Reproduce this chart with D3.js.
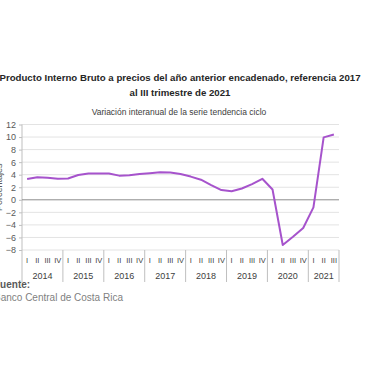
<!DOCTYPE html>
<html><head><meta charset="utf-8">
<script src="https://cdn.jsdelivr.net/npm/d3@7"></script>
<style>body{margin:0;background:#fff}svg{display:block}</style>
</head><body>
<svg id="c" width="380" height="380"></svg>
<script>
const years = ["2014","2015","2016","2017","2018","2019","2020","2021"];
const quarters = ["I","II","III","IV"];
const categories = ["2014-I","2014-II","2014-III","2014-IV","2015-I","2015-II","2015-III","2015-IV","2016-I","2016-II","2016-III","2016-IV","2017-I","2017-II","2017-III","2017-IV","2018-I","2018-II","2018-III","2018-IV","2019-I","2019-II","2019-III","2019-IV","2020-I","2020-II","2020-III","2020-IV","2021-I","2021-II","2021-III"];
const values = [3.3,3.6,3.5,3.35, 3.4,3.95,4.2,4.2, 4.2,3.85,3.9,4.1, 4.25,4.4,4.35,4.1, 3.7,3.2,2.35,1.55, 1.35,1.8,2.5,3.35, 1.65,-7.2,-5.9,-4.5, -1.2,9.95,10.4];
const yTicks = [-8,-6,-4,-2,0,2,4,6,8,10,12];
const title1 = "Producto Interno Bruto a precios del año anterior encadenado, referencia 2017";
const title2 = "al III trimestre de 2021";
const subtitle = "Variación interanual de la serie tendencia ciclo";
const yTitle = "Porcentajes";
const sourceLabel = "Fuente:";
const sourceText = "Banco Central de Costa Rica";

const svg = d3.select("#c");
const font = "'Liberation Sans', Arial, sans-serif";
const L = 22, R = 339, T = 124.5, B = 250;
const x = d3.scaleBand().domain(categories).range([L, R]);
const y = d3.scaleLinear().domain([-8, 12]).range([B, T]);

// titles
const t1 = svg.append("text").attr("x", 180).attr("y", 81).attr("text-anchor","middle")
  .attr("font-family", font).attr("font-weight","bold").attr("font-size", 11).attr("fill","#262626").text(title1);
const w = t1.node().getComputedTextLength();
const fs = 11 * 362 / w;
t1.attr("font-size", fs);
svg.append("text").attr("x", 180).attr("y", 96).attr("text-anchor","middle")
  .attr("font-family", font).attr("font-weight","bold").attr("font-size", fs).attr("fill","#262626").text(title2);
svg.append("text").attr("x", 179).attr("y", 115).attr("text-anchor","middle")
  .attr("font-family", font).attr("font-size", 8.5).attr("fill","#404040").text(subtitle);

// gridlines
svg.append("g").selectAll("line").data(yTicks.filter(d => d !== 0)).join("line")
  .attr("x1", L).attr("x2", R).attr("y1", d => y(d)).attr("y2", d => y(d))
  .attr("stroke", "#e3e3e3").attr("stroke-width", 1);

// y axis
const yAxis = svg.append("g").attr("transform", `translate(${L},0)`)
  .call(d3.axisLeft(y).tickValues(yTicks).tickSize(3).tickPadding(3).tickFormat(d3.format("d")));
yAxis.select(".domain").attr("stroke", "#bfbfbf").attr("d", `M-0,${T}V${B}`);
yAxis.selectAll(".tick line").attr("stroke", "#bfbfbf");
yAxis.selectAll(".tick text").attr("font-family", font).attr("font-size", 9).attr("fill", "#595959");
svg.append("line").attr("x1", L).attr("x2", L).attr("y1", B).attr("y2", 282).attr("stroke", "#bfbfbf");

svg.append("text").attr("transform", `translate(2,${(T+B)/2}) rotate(-90)`).attr("text-anchor","middle")
  .attr("font-family", font).attr("font-size", 9).attr("fill","#595959").text(yTitle);

// zero line
svg.append("line").attr("x1", L).attr("x2", R).attr("y1", y(0)).attr("y2", y(0))
  .attr("stroke", "#8c8c8c").attr("stroke-width", 1);

// x axis categories
const xg = svg.append("g");
xg.selectAll("text.q").data(categories).join("text").attr("class","q")
  .attr("x", d => x(d) + x.bandwidth()/2).attr("y", 263).attr("text-anchor","middle")
  .attr("font-family", font).attr("font-size", 7.5).attr("fill","#404040")
  .text(d => d.split("-")[1]);
const yearGroups = years.map(yr => {
  const cs = categories.filter(c => c.startsWith(yr));
  return {yr, x0: x(cs[0]), x1: x(cs[cs.length-1]) + x.bandwidth()};
});
xg.selectAll("text.y").data(yearGroups).join("text").attr("class","y")
  .attr("x", d => (d.x0 + d.x1)/2).attr("y", 279).attr("text-anchor","middle")
  .attr("font-family", font).attr("font-size", 9).attr("fill","#404040").text(d => d.yr);
xg.selectAll("line.sep").data(yearGroups).join("line").attr("class","sep")
  .attr("x1", d => d.x1).attr("x2", d => d.x1).attr("y1", B).attr("y2", 282)
  .attr("stroke", "#bfbfbf");

// line
const line = d3.line().x((d,i) => x(categories[i]) + x.bandwidth()/2).y(d => y(d)).curve(d3.curveLinear);
svg.append("path").datum(values).attr("d", line).attr("fill","none")
  .attr("stroke", "#a653cc").attr("stroke-width", 2).attr("stroke-linejoin","round");

// source
svg.append("text").attr("x", -6).attr("y", 288).attr("font-family", font).attr("font-weight","bold")
  .attr("font-size", 10).attr("fill","#595959").text(sourceLabel);
svg.append("text").attr("x", -6).attr("y", 301).attr("font-family", font)
  .attr("font-size", 10).attr("fill","#7f7f7f").text(sourceText);
</script>
</body></html>
